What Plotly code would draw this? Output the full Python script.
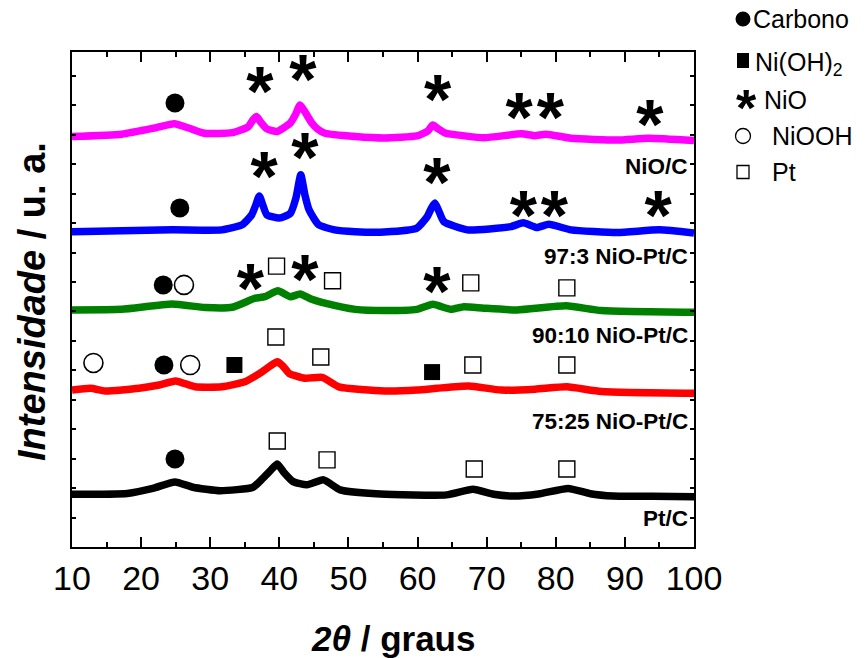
import plotly.graph_objects as go

# ---------------- data ----------------
x_range = [10, 100]
y_range = [0, 16.81]
x_ticks = [10, 20, 30, 40, 50, 60, 70, 80, 90, 100]

nioc_x = [10, 17.2, 22, 24.8, 27.0, 29.2, 33.2, 35.5, 36.2, 36.7, 37.3, 38.2, 39.7, 41.6, 42.3, 43.0, 43.7,
          44.7, 45.5, 46.6, 51, 55.2, 59.9, 61.5, 62.2, 63.0, 64.0, 64.8, 69.6, 75.0, 76.9, 78.6,
          82.2, 88.9, 93.5, 100]
nioc_y = [13.94, 14.02, 14.23, 14.37, 14.22, 14.05, 14.07, 14.27, 14.51, 14.62, 14.43, 14.20, 14.11, 14.40,
          14.67, 15.01, 14.78, 14.40, 14.20, 14.05, 13.94, 13.89, 13.96, 14.13, 14.33, 14.20, 14.06, 14.02,
          13.90, 14.03, 13.97, 14.02, 13.88, 13.82, 13.88, 13.80]

s973_x = [10, 24.5, 31.7, 34.6, 36.0, 36.6, 37.1, 37.6, 38.2, 40.0, 41.6, 42.4, 43.1, 43.7, 44.3, 45.7,
          48, 51, 55.2, 59.9, 61.4, 62.0, 62.5, 63.0, 63.8, 67.2, 73.5, 75.3, 77.3, 79.0, 82.2, 88.9,
          95, 100]
s973_y = [10.71, 10.77, 10.77, 10.94, 11.28, 11.62, 11.92, 11.62, 11.28, 11.17, 11.33, 11.85, 12.64, 11.96,
          11.45, 10.94, 10.77, 10.71, 10.70, 10.83, 11.22, 11.51, 11.68, 11.45, 11.05, 10.77, 10.88, 11.01,
          10.85, 10.96, 10.77, 10.68, 10.77, 10.66]

s9010_x = [10, 17.2, 24.5, 29.3, 33.2, 36.5, 37.9, 39.8, 41.6, 43.0, 44.7, 46.6, 51, 55.2, 59.9, 62.2,
           64.8, 66.7, 69.6, 74.4, 81.5, 86.6, 100]
s9010_y = [8.05, 8.07, 8.25, 8.13, 8.14, 8.45, 8.50, 8.70, 8.50, 8.59, 8.41, 8.28, 8.07, 8.03, 8.07, 8.24,
           8.07, 8.16, 8.11, 8.05, 8.19, 8.03, 7.97]

s7525_x = [10, 12.7, 14.8, 19.7, 22.6, 25, 27.8, 31.7, 35, 37.5, 38.7, 39.7, 40.5, 41.4, 43.7, 46.2,
           48.6, 55.2, 59.9, 62.8, 67.4, 72.1, 77.0, 81.6, 86.6, 100]
s7525_y = [5.33, 5.39, 5.30, 5.39, 5.50, 5.64, 5.44, 5.44, 5.61, 5.95, 6.15, 6.29, 6.15, 5.90, 5.73, 5.76,
           5.44, 5.30, 5.33, 5.39, 5.47, 5.33, 5.36, 5.44, 5.28, 5.22]

ptc_x = [10, 18, 21.7, 24.9, 27.5, 31.4, 36.2, 37.6, 38.8, 39.7, 40.6, 42, 44, 46.4, 48.8, 54.6, 64.2,
         68.0, 71.0, 73.8, 77.5, 81.8, 85.0, 88.3, 94.0, 100]
ptc_y = [1.79, 1.82, 1.99, 2.21, 2.03, 1.91, 2.03, 2.33, 2.62, 2.82, 2.55, 2.22, 2.11, 2.28, 1.94, 1.80,
         1.77, 1.96, 1.79, 1.73, 1.80, 1.99, 1.81, 1.73, 1.72, 1.71]

series_names = ["NiO/C", "97:3 NiO-Pt/C", "90:10 NiO-Pt/C", "75:25 NiO-Pt/C", "Pt/C"]

# phase markers (2theta, stacked intensity)
carbono_x = [24.9, 25.6, 23.2, 23.3, 24.9]
carbono_y = [15.08, 11.51, 8.90, 6.18, 2.99]
nioh2_x = [33.5, 62.1]
nioh2_y = [6.18, 5.94]
nio_x = [37.2, 43.4, 62.9, 74.7, 79.2, 93.6, 37.8, 43.7, 62.8, 75.3, 79.8, 94.8, 35.8, 43.7, 62.8]
nio_y = [15.69, 16.13, 15.42, 14.84, 14.84, 14.60, 12.81, 13.45, 12.60, 11.51, 11.51, 11.51, 9.00, 9.31, 8.90]
niooh_x = [26.2, 13.1, 27.1]
niooh_y = [8.90, 6.25, 6.18]
pt_x = [39.6, 47.7, 67.7, 81.6, 39.5, 46.0, 68.0, 81.6, 39.7, 46.9, 68.2, 81.6]
pt_y = [9.54, 9.04, 8.97, 8.80, 7.13, 6.45, 6.18, 6.18, 3.60, 2.96, 2.65, 2.65]

legend_labels = ["Carbono", "Ni(OH)<sub>2</sub>", "NiO", "NiOOH", "Pt"]

# ---------------- layout geometry ----------------
W, H = 868, 658
ML, MR, MT, MB = 72, 174, 52, 111
PW, PH = W - ML - MR, H - MT - MB
FONT = "Liberation Sans, Arial, sans-serif"


def px(xp):
    return (xp - ML) / PW


def py(yp):
    return (H - MB - yp) / PH


fig = go.Figure()

curves = [(nioc_x, nioc_y, "#FF00FF"), (s973_x, s973_y, "#0000FF"), (s9010_x, s9010_y, "#008000"),
          (s7525_x, s7525_y, "#FF0000"), (ptc_x, ptc_y, "#000000")]
for (xs, ys, c), nm in zip(curves, series_names):
    fig.add_trace(go.Scatter(x=xs, y=ys, mode="lines", name=nm,
                             line=dict(color=c, width=7.5, shape="spline", smoothing=0.5),
                             showlegend=False, hoverinfo="skip"))

fig.add_trace(go.Scatter(x=carbono_x, y=carbono_y, mode="markers", showlegend=False,
                         marker=dict(symbol="circle", size=19, color="black")))
fig.add_trace(go.Scatter(x=nioh2_x, y=nioh2_y, mode="markers", showlegend=False,
                         marker=dict(symbol="square", size=16, color="black")))
fig.add_trace(go.Scatter(x=niooh_x, y=niooh_y, mode="markers", showlegend=False,
                         marker=dict(symbol="circle-open", size=19, color="black", line=dict(width=1.6))))
fig.add_trace(go.Scatter(x=pt_x, y=pt_y, mode="markers", showlegend=False,
                         marker=dict(symbol="square-open", size=16, color="black", line=dict(width=1.4))))

# asterisks drawn as bold text glyphs; shift so the glyph centre sits on the point
AST = 70
units_per_px = (y_range[1] - y_range[0]) / PH
shift = 0.20 * AST * units_per_px
fig.add_trace(go.Scatter(x=nio_x, y=[v - shift for v in nio_y], mode="text", text=["*"] * len(nio_x),
                         textposition="middle center", showlegend=False,
                         textfont=dict(family=FONT, size=AST, color="black", weight="bold")))

# series labels
label_y = [166, 256, 335, 422, 518]
for nm, yy in zip(series_names, label_y):
    fig.add_annotation(x=px(690), y=py(yy), xref="paper", yref="paper", text=nm, showarrow=False,
                       xanchor="right", yanchor="middle",
                       font=dict(family=FONT, size=22.5, color="black", weight="bold"))

# legend (drawn in right margin)
leg_y = [19, 60, 100, 136, 172]
leg_tx = [751, 753, 762, 770, 770]
cx = 743
fig.add_shape(type="circle", xref="paper", yref="paper", x0=px(cx - 7.5), x1=px(cx + 7.5),
              y0=py(leg_y[0] + 7.5), y1=py(leg_y[0] - 7.5), fillcolor="black", line=dict(width=0))
fig.add_shape(type="rect", xref="paper", yref="paper", x0=px(cx - 6), x1=px(cx + 6),
              y0=py(leg_y[1] + 8), y1=py(leg_y[1] - 7), fillcolor="black", line=dict(width=0))
fig.add_annotation(x=px(cx + 3), y=py(leg_y[2] + 8), xref="paper", yref="paper", text="*", showarrow=False,
                   xanchor="center", yanchor="middle",
                   font=dict(family=FONT, size=52, color="black", weight="bold"))
fig.add_shape(type="circle", xref="paper", yref="paper", x0=px(cx - 7.5), x1=px(cx + 7.5),
              y0=py(leg_y[3] + 7.5), y1=py(leg_y[3] - 7.5), line=dict(color="black", width=1.3))
fig.add_shape(type="rect", xref="paper", yref="paper", x0=px(cx - 6), x1=px(cx + 6),
              y0=py(leg_y[4] + 6.5), y1=py(leg_y[4] - 6.5), line=dict(color="black", width=1.3))
for t, tx, ty in zip(legend_labels, leg_tx, leg_y):
    fig.add_annotation(x=px(tx), y=py(ty + (4 if "sub" in t else 0)), xref="paper", yref="paper", text=t,
                       showarrow=False, xanchor="left", yanchor="middle",
                       font=dict(family=FONT, size=25, color="black"))

# axis titles
fig.add_annotation(x=px(393), y=py(638), xref="paper", yref="paper", text="<i>2θ</i> / graus",
                   showarrow=False, xanchor="center", yanchor="middle",
                   font=dict(family=FONT, size=35, color="black", weight="bold"))
fig.add_annotation(x=px(32), y=py(302), xref="paper", yref="paper", text="<i>Intensidade</i> / u. a.",
                   showarrow=False, xanchor="center", yanchor="middle", textangle=-90,
                   font=dict(family=FONT, size=38, color="black", weight="bold"))

fig.update_xaxes(range=x_range, tickvals=x_ticks, ticks="inside", ticklen=10, tickwidth=2,
                 tickcolor="black", showline=True, linecolor="black", linewidth=2, mirror="allticks",
                 showgrid=False, zeroline=False,
                 tickfont=dict(family=FONT, size=34, color="black"),
                 minor=dict(dtick=5, tick0=5, ticks="inside", ticklen=5, tickwidth=2, tickcolor="black",
                            showgrid=False))
fig.update_yaxes(range=y_range, dtick=1, tick0=0, ticks="inside", ticklen=4, tickwidth=2, tickcolor="black",
                 showticklabels=False, showline=True, linecolor="black", linewidth=2, mirror="allticks",
                 showgrid=False, zeroline=False)

fig.update_layout(width=W, height=H, margin=dict(l=ML, r=MR, t=MT, b=MB, autoexpand=False),
                  plot_bgcolor="white", paper_bgcolor="white", showlegend=False)

fig.write_html("out.html")
